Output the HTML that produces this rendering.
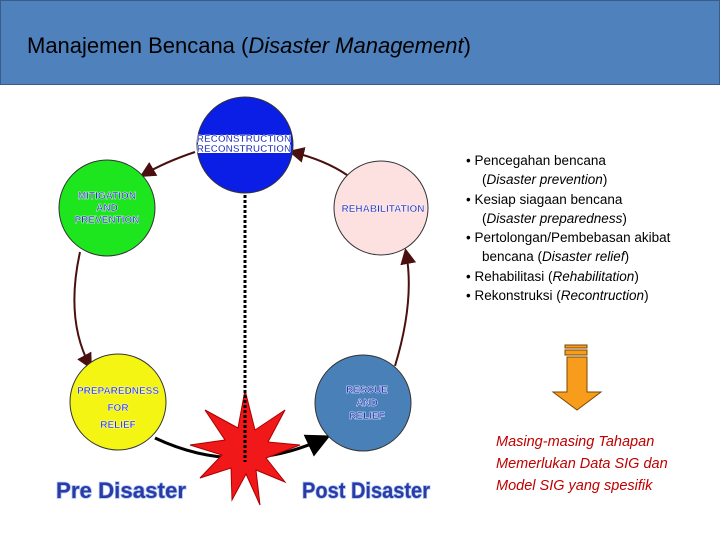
<!DOCTYPE html>
<html><head><style>
body{margin:0;width:720px;height:540px;background:#fff;position:relative;overflow:hidden;font-family:"Liberation Sans",sans-serif}
.hdr{position:absolute;left:0;top:0;width:718px;height:83px;background:#4f81bd;border:1px solid #385d8a}
.hdr span{position:absolute;left:26px;top:32px;font-size:22px;color:#000}
.list{position:absolute;left:466px;top:151px;font-size:13.5px;line-height:19.3px;color:#000}
.list div{padding-left:16px;text-indent:-16px}
.note{position:absolute;left:496px;top:431px;font-size:14.5px;line-height:22px;color:#c00000;font-style:italic}
</style></head><body>
<div class="hdr"><span>Manajemen Bencana (<i>Disaster Management</i>)</span></div>
<svg width="720" height="540" style="position:absolute;left:0;top:0">
<defs><marker id="a" markerWidth="8" markerHeight="8" refX="6" refY="4" orient="auto"><path d="M0,0 L8,4 L0,8 z" fill="#4a1010"/></marker>
<marker id="b" markerWidth="8" markerHeight="8" refX="6" refY="4" orient="auto"><path d="M0,0 L8,4 L0,8 z" fill="#000"/></marker></defs>
<g fill="none" stroke="#4a1010" stroke-width="2">
<path d="M195,152 Q165,162 143,175" marker-end="url(#a)"/>
<path d="M80,252 Q65,320 90,366" marker-end="url(#a)"/>
<path d="M395,366 Q415,300 406,252" marker-end="url(#a)"/>
<path d="M347,175 Q325,160 292,152" marker-end="url(#a)"/>
</g>
<path d="M155,438 Q240,478 325,438" fill="none" stroke="#000" stroke-width="3" marker-end="url(#b)"/>
<circle cx="245" cy="145" r="48" fill="#0a1ee6" stroke="#333"/>
<circle cx="107" cy="208" r="48" fill="#1ee61e" stroke="#333"/>
<circle cx="381" cy="208" r="47" fill="#fde0e0" stroke="#333"/>
<circle cx="118" cy="402" r="48" fill="#f5f514" stroke="#333"/>
<circle cx="363" cy="403" r="48" fill="#4a80b8" stroke="#333"/>
<polygon points="245,390 255,430 285,410 268,442 300,445 266,458 285,482 256,470 260,505 246,474 232,500 231,468 200,478 222,455 190,445 225,440 205,410 238,428" fill="#f01818" stroke="#a00" stroke-width="1"/>
<line x1="245" y1="195" x2="245" y2="462" stroke="#000" stroke-width="3" stroke-dasharray="3,2"/>
<g font-family="Liberation Sans" font-weight="bold" font-size="10" fill="#2233bb" text-anchor="middle" stroke="#fff" stroke-width="0.4">
<rect x="198" y="135" width="92" height="18" fill="#fff" stroke="none"/>
<text x="244" y="142" fill="#2233bb">RECONSTRUCTION</text><text x="244" y="152">RECONSTRUCTION</text>
<text x="107" y="199">MITIGATION</text><text x="107" y="211">AND</text><text x="107" y="223">PREVENTION</text>
<text x="383" y="212">REHABILITATION</text>
<text x="118" y="394">PREPAREDNESS</text><text x="118" y="411">FOR</text><text x="118" y="428">RELIEF</text>
<text x="367" y="393">RESCUE</text><text x="367" y="406">AND</text><text x="367" y="419">RELIEF</text>
</g>
<g font-family="Liberation Sans" font-weight="bold" font-size="22" fill="#2a3ba8" stroke="#a9c4ee" stroke-width="1.5" paint-order="stroke">
<text x="56" y="498" textLength="130" lengthAdjust="spacingAndGlyphs">Pre Disaster</text>
<text x="302" y="498" textLength="128" lengthAdjust="spacingAndGlyphs">Post Disaster</text>
</g>
<g fill="#f89c1c" stroke="#7a4a00" stroke-width="1">
<rect x="565" y="345" width="22" height="3"/>
<rect x="565" y="350" width="22" height="5"/>
<polygon points="567,357 587,357 587,392 601,392 577,410 553,392 567,392"/>
</g>
</svg>
<div class="list">
<div>• Pencegahan bencana<br>(<i>Disaster prevention</i>)</div>
<div>• Kesiap siagaan bencana<br>(<i>Disaster preparedness</i>)</div>
<div>• Pertolongan/Pembebasan akibat<br>bencana (<i>Disaster relief</i>)</div>
<div>• Rehabilitasi (<i>Rehabilitation</i>)</div>
<div>• Rekonstruksi (<i>Recontruction</i>)</div>
</div>
<div class="note">Masing-masing Tahapan<br>Memerlukan Data SIG dan<br>Model SIG yang spesifik</div>
</body></html>
